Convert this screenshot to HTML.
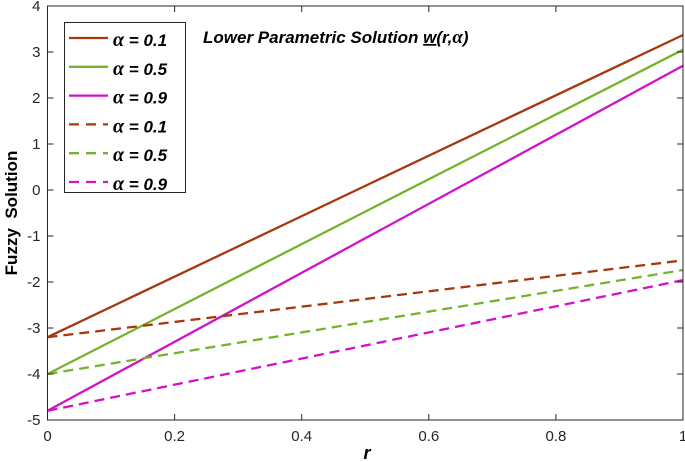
<!DOCTYPE html>
<html><head><meta charset="utf-8">
<style>
html,body{margin:0;padding:0;background:#fff;}
svg{display:block;font-family:"Liberation Sans",sans-serif;}
</style></head>
<body>
<svg id="chart" width="685" height="462"></svg>
<script>
const rValues=[0,0.5,1];
const solid01=[-3.2,0.09,3.37];
const solid05=[-4,-0.47,3.05];
const solid09=[-4.8,-1.05,2.7];
const dash01=[-3.2,-2.37,-1.53];
const dash05=[-4,-2.87,-1.74];
const dash09=[-4.8,-3.38,-1.96];
const xTicks=[0,0.2,0.4,0.6,0.8,1];
const yTicks=[-5,-4,-3,-2,-1,0,1,2,3,4];
const legendLabels=["0.1","0.5","0.9","0.1","0.5","0.9"];

const X0=47.5,X1=683,Y0=420,Y1=6;
const sx=v=>X0+(v-0)/(1-0)*(X1-X0);
const sy=v=>Y0-(v+5)/9*(Y0-Y1);
const NS="http://www.w3.org/2000/svg";
const svg=document.getElementById('chart');
function mk(t,a,p){const e=document.createElementNS(NS,t);for(const k in a)e.setAttribute(k,a[k]);(p||svg).appendChild(e);return e;}

const series=[
 {d:solid01,c:"#a5380e",dash:null,n:"line-solid-alpha-0-1"},
 {d:solid05,c:"#77b22e",dash:null,n:"line-solid-alpha-0-5"},
 {d:solid09,c:"#d012c8",dash:null,n:"line-solid-alpha-0-9"},
 {d:dash01,c:"#a5380e",dash:"10,6",n:"line-dashed-alpha-0-1"},
 {d:dash05,c:"#77b22e",dash:"10,6",n:"line-dashed-alpha-0-5"},
 {d:dash09,c:"#d012c8",dash:"10,6",n:"line-dashed-alpha-0-9"}
];
series.forEach(s=>{
 const pts=rValues.map((r,i)=>sx(r)+","+sy(s.d[i])).join(" ");
 const a={points:pts,fill:"none",stroke:s.c,"stroke-width":2.3};
 if(s.dash)a["stroke-dasharray"]=s.dash;
 const el=mk("polyline",a);
 
 
});

const ax=mk("rect",{x:X0,y:Y1,width:X1-X0,height:Y0-Y1,fill:"none",stroke:"#262626","stroke-width":1});



xTicks.forEach(t=>{
 const x=sx(t);
 mk("line",{x1:x,x2:x,y1:Y0,y2:Y0-6,stroke:"#262626"});
 mk("line",{x1:x,x2:x,y1:Y1,y2:Y1+6,stroke:"#262626"});
 const tx=mk("text",{x:x,y:Y0+21,"text-anchor":"middle","font-size":15,fill:"#262626"});
 tx.textContent=String(t);
 
 
});
yTicks.forEach(t=>{
 const y=sy(t);
 mk("line",{x1:X0,x2:X0+6,y1:y,y2:y,stroke:"#262626"});
 mk("line",{x1:X1,x2:X1-6,y1:y,y2:y,stroke:"#262626"});
 const tx=mk("text",{x:X0-7,y:y+5,"text-anchor":"end","font-size":15,fill:"#262626"});
 tx.textContent=String(t);
 
 
});

const xl=mk("text",{x:367,y:459,"text-anchor":"middle","font-size":18,"font-weight":"bold","font-style":"italic",fill:"#000"});
xl.textContent="r";


const yl=mk("text",{x:0,y:0,"text-anchor":"middle","font-size":17,"font-weight":"bold",fill:"#000",transform:"translate(17,213) rotate(-90)",style:"white-space:pre"});
yl.textContent="Fuzzy  Solution";



const title=mk("text",{x:203,y:43,"font-size":17,"font-weight":"bold","font-style":"italic",fill:"#000"});
title.innerHTML='Lower Parametric Solution <tspan text-decoration="underline">w</tspan>(r,<tspan font-family="Liberation Serif" font-size="19">α</tspan>)';



const lg=mk("g",{});


mk("rect",{x:64.5,y:22.5,width:121,height:170,fill:"#fff",stroke:"#262626"},lg);
series.forEach((s,i)=>{
 const y=38+i*28.8;
 const a={x1:69,x2:108,y1:y,y2:y,stroke:s.c,"stroke-width":2.3};
 if(s.dash)a["stroke-dasharray"]="10,7";
 mk("line",a,lg);
 const t=mk("text",{x:113,y:y+8,"font-size":17,"font-weight":"bold","font-style":"italic",fill:"#000"},lg);
 t.innerHTML='<tspan font-family="Liberation Serif" font-size="20">α</tspan> = '+legendLabels[i];
 
 
});
</script>
</body></html>
